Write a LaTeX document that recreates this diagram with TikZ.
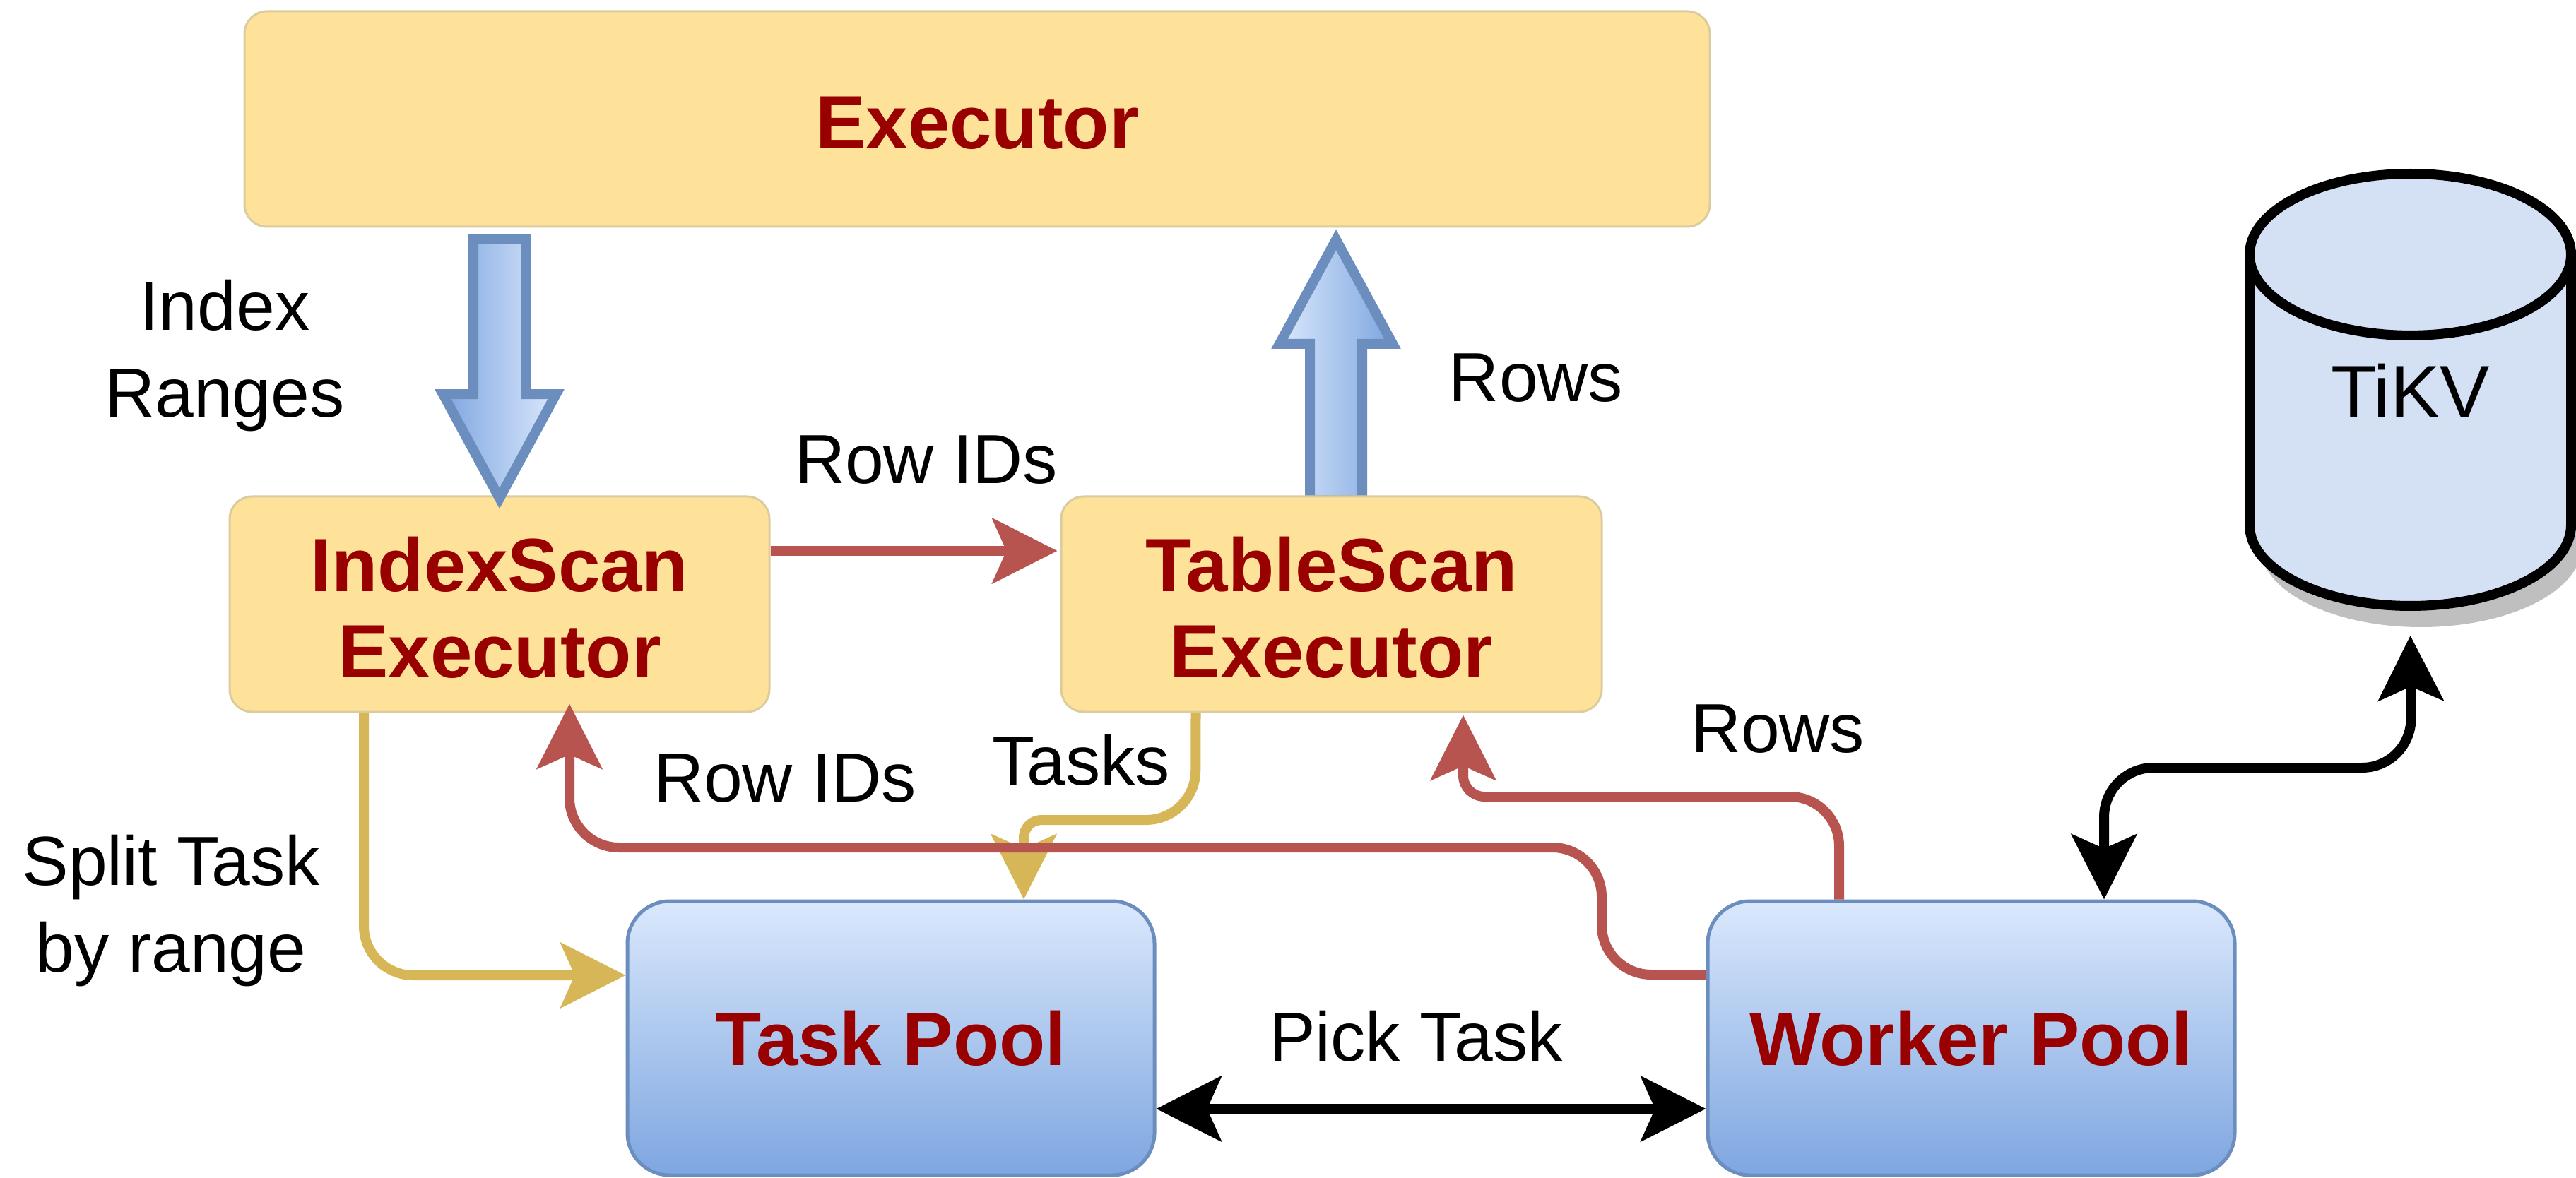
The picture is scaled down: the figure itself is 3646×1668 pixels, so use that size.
\documentclass[tikz,border=0pt]{standalone}
\usepackage{fontspec}
\setmainfont{Liberation Sans}
\usetikzlibrary{arrows.meta,backgrounds,shadows,shapes.arrows,shapes.geometric}
\definecolor{boxyellow}{HTML}{FFE29A}
\definecolor{edgeyellow}{HTML}{DCCB9C}
\definecolor{boxtext}{HTML}{990000}
\definecolor{lightblue}{HTML}{DAE8FC}
\definecolor{midblue}{HTML}{7EA6E0}
\definecolor{edgeblue}{HTML}{6C8EBF}
\definecolor{tikvblue}{HTML}{D4E1F5}
\definecolor{redline}{HTML}{B85450}
\definecolor{yellowline}{HTML}{D6B656}
\tikzset{
  title/.style={font=\fontsize{30.4}{34.8}\selectfont\bfseries, text=boxtext, align=center},
  label/.style={font=\fontsize{28}{35}\selectfont, align=center},
  execbox/.style={draw=edgeyellow, line width=0.3mm, fill=boxyellow, rounded corners=3.2mm, title},
  poolbox/.style={draw=edgeblue, line width=0.5mm, top color=lightblue, bottom color=midblue, rounded corners=6mm, minimum width=74.6mm, minimum height=38.8mm, title},
  fatarrow/.style={single arrow, draw=edgeblue, line width=1.4mm, inner xsep=0pt, inner ysep=3mm, outer sep=0pt, single arrow head extend=4.3mm, single arrow tip angle=57, single arrow head indent=0pt},
  link/.style={line width=1.4mm, rounded corners=7mm, >={Stealth[length=9.2mm, width=9.2mm, inset=2mm]}},
}
\begin{document}
\begin{tikzpicture}[x=0.1mm, y=-0.1mm]
  \useasboundingbox (0,0) rectangle (3646,1668);
  \node[execbox, minimum width=207.4mm, minimum height=30.5mm, text height=8.6mm] (executor) at (1383,168.5) {Executor};
  \node[execbox, minimum width=76.4mm, minimum height=30.5mm, text height=21mm] (indexscan) at (707,855.5) {IndexScan\\Executor};
  \node[execbox, minimum width=76.5mm, minimum height=30.5mm, text height=21mm] (tablescan) at (1884.5,855.5) {TableScan\\Executor};
  \node[poolbox] (taskpool) at (1261,1470) {Task Pool};
  \node[poolbox] (workerpool) at (2790,1470) {Worker Pool};
  \node[cylinder, shape border rotate=90, aspect=0.923, draw=black, line width=1.4mm, fill=tikvblue, minimum width=45.5mm, minimum height=61.2mm, outer sep=0pt, anchor=south, font=\fontsize{30}{34}\selectfont, drop shadow={shadow xshift=1.5mm, shadow yshift=-3mm, opacity=1, fill=black!25}] (tikv) at (3411.5,858) {\raisebox{3.9mm}[0pt][0pt]{TiKV}};

  \node[fatarrow, rotate=-90, left color=midblue, right color=lightblue, minimum height=36.7mm, anchor=tip] (rangesarrow) at ([yshift=-0.4mm]indexscan.north) {};
  \begin{scope}[on background layer]
    \node[fatarrow, rotate=90, left color=lightblue, right color=midblue, minimum height=36.9mm, anchor=tail] (rowsarrow) at ([xshift=0.65mm,yshift=-0.7mm]tablescan.north) {};
  \end{scope}

  \draw[link, yellowline, ->] ([xshift=-19.2mm]indexscan.south) -- (515,1381) -- ([yshift=8.9mm]taskpool.west);
  \draw[link, yellowline, ->] ([xshift=-19.2mm]tablescan.south) -- (1692,1161) [rounded corners=2.5mm] -- (1449,1161) -- ([xshift=18.8mm]taskpool.north);
  \draw[link, redline, ->] ([yshift=7.55mm]indexscan.east) -- ([yshift=7.55mm,xshift=-0.4mm]tablescan.west);
  \draw[link, redline, ->] ([yshift=9mm]workerpool.west) -- (2267,1380) -- (2267,1200) -- (806,1200) -- ([xshift=9.9mm,yshift=1.3mm]indexscan.south);
  \draw[link, redline, ->] ([xshift=-18.7mm]workerpool.north) -- (2603,1128) [rounded corners=3mm] -- (2071,1128) -- ([xshift=18.65mm,yshift=-0.3mm]tablescan.south);
  \draw[link, black, <->] ([yshift=-10mm]taskpool.east) -- ([yshift=-10mm]workerpool.west);
  \draw[link, black, <->] ([xshift=18.8mm]workerpool.north) -- (2978,1087) -- (3413,1087) -- ([yshift=-4.2mm]tikv.south);

  \node[label] (rangeslabel) at (318,504) {Index\\Ranges};
  \node[label] (rowslabel) at (2174,535) {Rows};
  \node[label] (idslabel) at (1311,651) {Row IDs};
  \node[label] (backidslabel) at (1111,1102) {Row IDs};
  \node[label] (taskslabel) at (1530,1076) {Tasks};
  \node[label] (backrowslabel) at (2516,1032) {Rows};
  \node[label] (splitlabel) at (242,1290) {Split Task\\by range};
  \node[label] (picklabel) at (2004,1467) {Pick Task};
\end{tikzpicture}
\end{document}
